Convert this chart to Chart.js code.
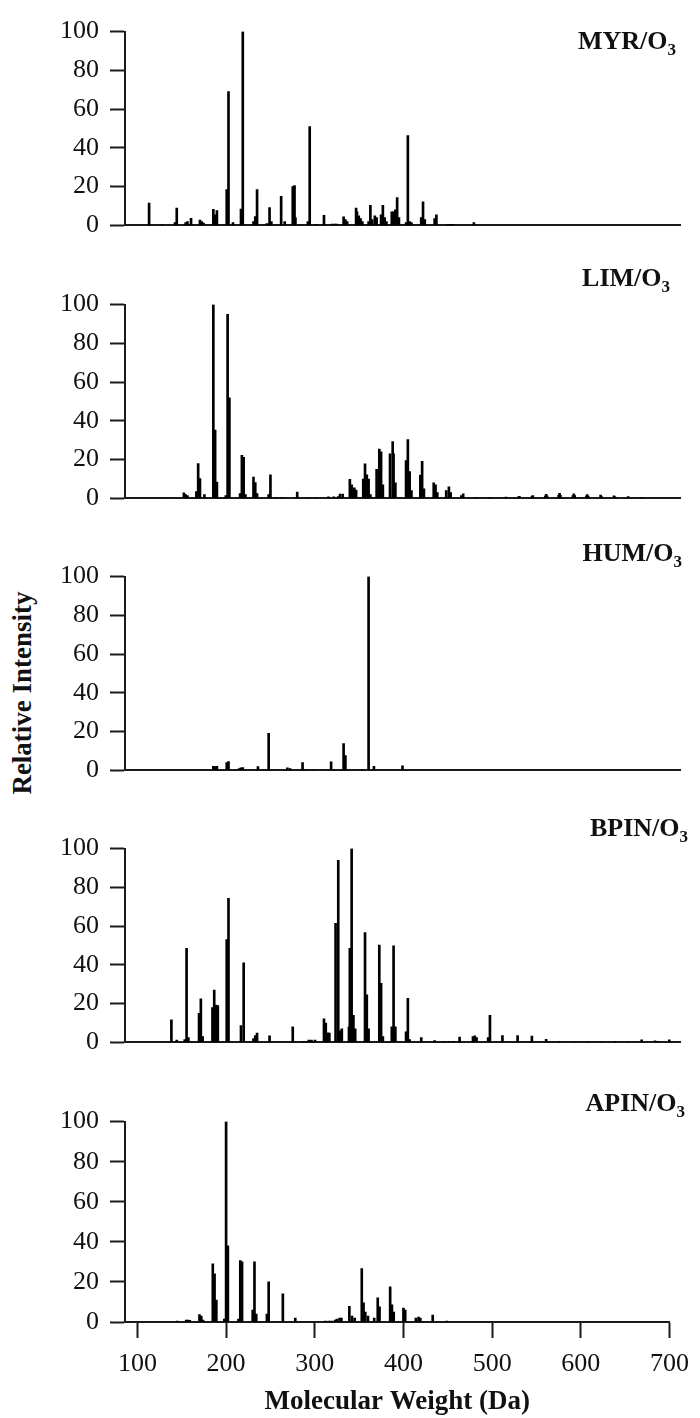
<!DOCTYPE html>
<html>
<head>
<meta charset="utf-8">
<title>Relative Intensity vs Molecular Weight</title>
<script src="https://cdn.jsdelivr.net/npm/chart.js@4.4.1/dist/chart.umd.min.js"></script>
<style>
  html, body { margin: 0; padding: 0; background: #fff; }
  body {
    width: 700px; height: 1418px; position: relative; overflow: hidden;
    font-family: "Liberation Serif", "Times New Roman", serif; color: #111;
  }
  .panel { position: absolute; left: 0; width: 700px; }
  .tag {
    position: absolute; font-weight: bold; font-size: 26px; line-height: 26px;
    white-space: nowrap;
  }
  .tag sub { font-size: 17px; line-height: 0; vertical-align: -6px; }
  #ylabel {
    position: absolute; left: 22px; top: 693px; white-space: nowrap;
    font-weight: bold; font-size: 27px; line-height: 27px;
    transform: translate(-50%, -50%) rotate(-90deg);
  }
</style>
</head>
<body>
<div id="ylabel">Relative Intensity</div>
<script>
'use strict';

/* ---- Axes ---- */
const X_MIN   = 86;
const X_TICKS = [100, 200, 300, 400, 500, 600, 700];
const Y_TICKS = [0, 20, 40, 60, 80, 100];
const X_TITLE = 'Molecular Weight (Da)';

/* ---- Spectra: molecular weight (Da) and relative intensity ---- */
const MYR_MW  = [113, 128, 142, 144, 154, 156, 160, 170, 172, 174, 185, 187, 189, 200, 202, 207, 216, 218,
                 230, 232, 234, 245, 248, 250, 261, 265, 274, 276, 277, 291, 293, 300, 309, 318, 321, 323,
                 331, 333, 335, 345, 346, 348, 350, 352, 359, 361, 363, 366, 368, 373, 375, 377, 379,
                 385, 387, 389, 391, 393, 401, 403, 405, 407, 418, 420, 422, 433, 435, 448, 451, 454, 477];
const MYR_INT = [11.5, 0.4, 1.5, 9, 1.5, 2, 3.6, 2.8, 2, 1.2, 8.3, 5.5, 7.6, 18.5, 69, 1.5, 8.4, 100,
                 2, 4.5, 18.5, 1, 9.2, 2, 15, 2, 20, 20.5, 4, 2, 51, 0.5, 5.2, 0.7, 0.7, 0.7,
                 4.4, 3, 2, 9, 7, 5, 3.5, 2, 2, 10.4, 3, 5, 4, 5.5, 10.4, 4, 2,
                 7, 7, 8, 14.4, 4, 1.5, 46.4, 2, 1.5, 4, 12.2, 3, 3.5, 5.5, 0.5, 0.5, 0.5, 1.5];

const LIM_MW  = [128, 152, 154, 156, 166, 168, 170, 175, 185, 187, 189, 199, 201, 203, 215, 217, 219, 221,
                 230, 232, 234, 247, 249, 255, 262, 279, 290, 300, 314, 320, 325, 327, 330,
                 338, 340, 343, 345, 353, 355, 357, 359, 361, 368, 371, 373, 375, 383, 386, 387, 389,
                 401, 403, 405, 407, 417, 419, 421, 432, 434, 436, 446, 449, 451, 463, 465,
                 480, 495, 513, 527, 528, 542, 543, 557, 558, 559, 572, 573, 574, 588, 589, 590,
                 603, 604, 605, 619, 620, 634, 635, 650, 665];
const LIM_INT = [0.3, 2.9, 2, 1.5, 3.5, 18, 10.2, 2, 100, 35.3, 8.4, 1.5, 95, 51.9, 2.5, 22.2, 21.2, 2,
                 11, 8.1, 2.5, 2, 12.2, 0.5, 0.5, 3.2, 0.3, 0.3, 0.8, 0.8, 1, 2.2, 2.2,
                 9.9, 7, 5.5, 4.3, 10, 17.8, 12.2, 10, 2, 15, 25.4, 24, 7, 23, 29.3, 23, 8,
                 19.5, 30.3, 13.8, 4, 12, 19.1, 5, 8, 7, 3, 4, 6, 3, 1.5, 2.4,
                 0.5, 0.5, 0.7, 0.8, 1.1, 1, 1.5, 1.2, 2.1, 1.3, 1.6, 2.6, 1.6, 1.4, 2.3, 1.4,
                 1.2, 2, 1.2, 1.7, 1, 1.3, 0.8, 1, 0.5];

const HUM_MW  = [185, 187, 189, 200, 202, 214, 216, 218, 235, 242, 247, 268, 271, 285, 289, 297,
                 317, 331, 333, 352, 359, 365, 397];
const HUM_INT = [2.1, 2, 2.1, 4, 4.5, 1, 1.3, 1.5, 2, 0.3, 19.1, 1.3, 1, 4, 0.5, 0.3,
                 4.4, 13.8, 7.6, 0.3, 100, 2.1, 2.4];

const BPIN_MW  = [138, 144, 153, 155, 157, 169, 171, 173, 184, 186, 188, 190, 200, 202, 216, 219,
                  230, 232, 234, 248, 274, 285, 289, 292, 295, 299, 309, 311, 313, 315,
                  322, 325, 327, 329, 337, 338, 340, 342, 344, 355, 357, 359, 371, 373, 375,
                  385, 387, 389, 401, 403, 405, 418, 433, 444, 449, 454, 461, 476, 478, 480,
                  493, 495, 509, 526, 542, 558, 573, 589, 605, 620, 635, 650, 665, 680, 684, 696];
const BPIN_INT = [11.7, 1.2, 1.5, 48.6, 2.5, 15, 22.5, 3, 18, 27, 19.3, 19, 53, 74.3, 8.7, 41,
                  2, 3.5, 4.8, 3.4, 8, 0.5, 0.5, 1.2, 1.2, 1.2, 12.2, 10, 5, 4.8,
                  61.5, 94, 6, 7, 8, 48.6, 100, 14, 7, 56.7, 24.6, 7, 50.2, 30.5, 3,
                  8, 49.8, 8, 5.5, 22.8, 1.5, 2.5, 1, 0.5, 0.5, 0.5, 2.7, 3, 3.4, 2.5,
                  2.5, 14, 3.5, 3.5, 3.2, 1.6, 0.6, 0.3, 0.2, 0.2, 0.5, 0.3, 1.3, 0.8, 0.5, 1.3];

const APIN_MW  = [145, 155, 157, 159, 170, 172, 174, 185, 187, 189, 198, 200, 202, 214, 216, 218,
                  230, 232, 234, 246, 248, 264, 278, 312, 316, 319, 323, 325, 328, 330,
                  339, 342, 345, 353, 355, 357, 360, 367, 371, 373, 385, 387, 389,
                  400, 402, 414, 417, 419, 433, 449];
const APIN_INT = [0.5, 1, 1, 0.8, 3.7, 3, 1, 29, 24, 11, 1.5, 100, 38, 1.5, 30.6, 30,
                  6, 30, 4, 4, 20, 14, 2, 0.5, 0.5, 0.5, 1, 1.5, 2, 2,
                  7.8, 3, 2, 26.6, 9.6, 5, 3, 2, 12, 7.6, 17.5, 8.6, 5,
                  7, 6, 2, 2.5, 2, 3.5, 0.5];

const PANELS = [
  { name: 'MYR',  mw: MYR_MW,  inten: MYR_INT },
  { name: 'LIM',  mw: LIM_MW,  inten: LIM_INT },
  { name: 'HUM',  mw: HUM_MW,  inten: HUM_INT },
  { name: 'BPIN', mw: BPIN_MW, inten: BPIN_INT },
  { name: 'APIN', mw: APIN_MW, inten: APIN_INT },
];

/* ---- Layout (page pixels) ---- */
const PAGE_H    = 1418;
const PLOT_TOP  = [25, 297.7, 570.3, 842, 1115];   // y of the 100 tick
const PLOT_H    = 207;                              // 0..100
const PAD       = 20;
const TAG_TOP   = [28, 265, 540, 815, 1090];
const TAG_RIGHT = [24, 30, 18, 12, 15];

const FONT  = '"Liberation Serif", "Times New Roman", serif';
const INK   = '#000';
const AXIS  = '#1a1a1a';
const TEXT  = '#111';

/* ============================================================
   Build one stacked panel per spectrum
   ============================================================ */
PANELS.forEach((panel, i) => buildPanel(panel, i));

function buildPanel(panel, i) {
  const last = i === PANELS.length - 1;
  const top  = PLOT_TOP[i] - PAD;

  const wrap = document.createElement('div');
  wrap.className = 'panel';
  wrap.style.top = top + 'px';
  wrap.style.height = (last ? PAGE_H - top : PLOT_H + 2 * PAD) + 'px';
  const canvas = document.createElement('canvas');
  wrap.appendChild(canvas);
  document.body.appendChild(wrap);

  // panel tag, e.g. MYR/O3
  const tag = document.createElement('div');
  tag.className = 'tag';
  tag.style.top = TAG_TOP[i] + 'px';
  tag.style.right = TAG_RIGHT[i] + 'px';
  tag.innerHTML = `${panel.name}/O<sub>3</sub>`;
  document.body.appendChild(tag);

  const points = panel.mw.map((x, k) => ({ x, y: panel.inten[k] }));

  new Chart(canvas, {
    type: 'bar',
    data: {
      datasets: [{
        data: points,
        backgroundColor: INK,
        borderWidth: 0,
        barThickness: 2,
      }],
    },
    options: {
      responsive: true,
      maintainAspectRatio: false,
      animation: false,
      events: [],
      layout: { padding: { top: PAD, bottom: last ? 0 : PAD, left: 0, right: last ? 27 : 20 } },
      plugins: { legend: { display: false }, tooltip: { enabled: false } },
      scales: {
        x: {
          type: 'linear',
          min: X_MIN,
          max: last ? 700 : 708,
          offset: false,
          afterBuildTicks: s => { s.ticks = X_TICKS.map(v => ({ value: v })); },
          afterFit: s => { s.height = last ? PAGE_H - PLOT_TOP[i] - PLOT_H : 0; },
          grid: {
            display: last, offset: false, drawOnChartArea: false, drawTicks: last,
            tickLength: 16, tickWidth: 2, tickColor: AXIS,
          },
          border: { display: true, color: AXIS, width: 2 },
          ticks: {
            display: last, padding: 11, autoSkip: false, maxRotation: 0,
            font: { family: FONT, size: 26 }, color: TEXT,
          },
          title: {
            display: last, text: X_TITLE, color: TEXT,
            font: { family: FONT, size: 27, weight: 'bold' },
            padding: { top: 0, bottom: 0 },
          },
        },
        y: {
          min: 0,
          max: 100,
          afterBuildTicks: s => { s.ticks = Y_TICKS.map(v => ({ value: v })); },
          afterFit: s => { s.width = 125; },
          grid: {
            drawOnChartArea: false, drawTicks: true,
            tickLength: 15, tickWidth: 2, tickColor: AXIS,
          },
          border: { display: true, color: AXIS, width: 2 },
          ticks: { padding: 11, font: { family: FONT, size: 26 }, color: TEXT },
        },
      },
    },
  });
}
</script>
</body>
</html>
